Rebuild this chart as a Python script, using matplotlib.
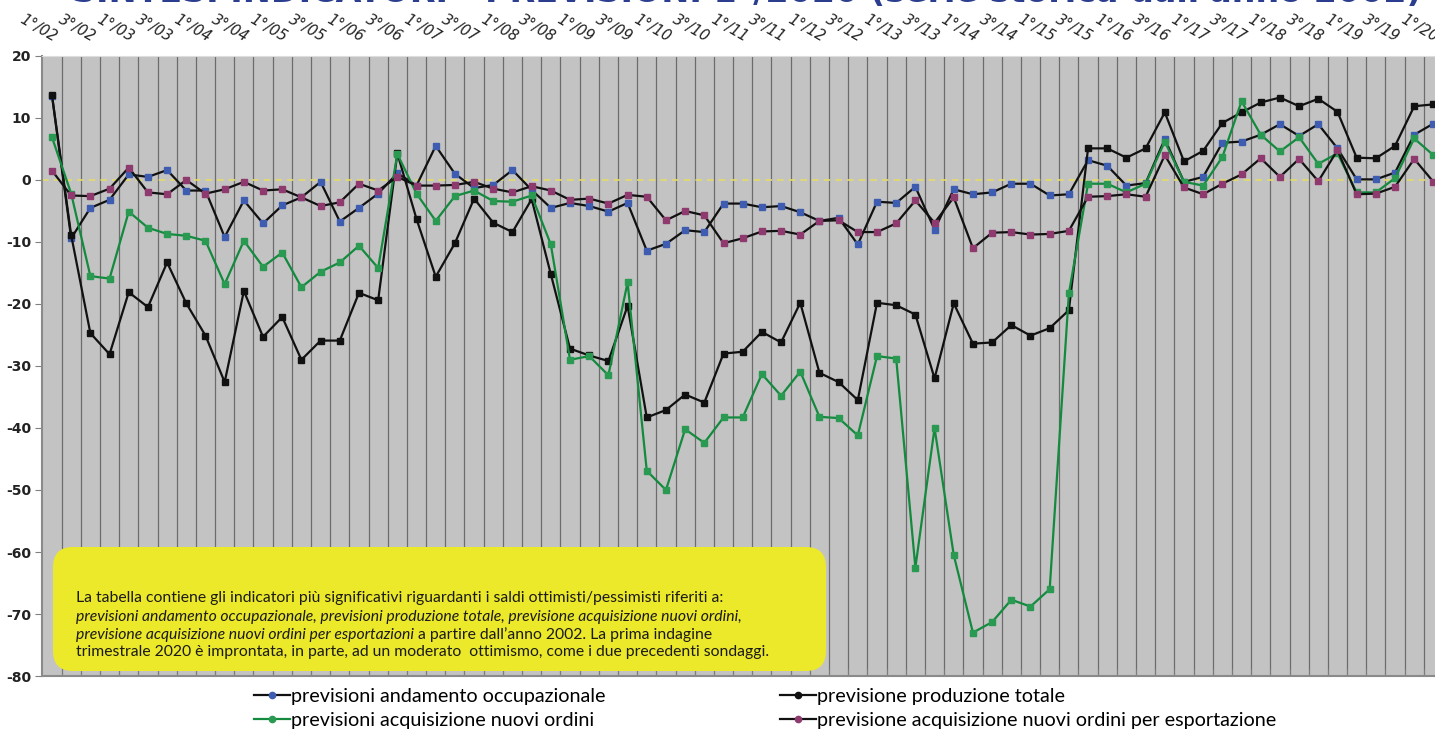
import matplotlib
matplotlib.use("Agg")
import matplotlib.pyplot as plt
from matplotlib.lines import Line2D
from matplotlib.patches import FancyBboxPatch
import numpy as np

plt.rcParams['axes.unicode_minus'] = False

# periodi: trimestri dal 1°/02 al 1°/20 (etichette solo 1° e 3°)
anni = list(range(2, 21))
periodi = []
for a in anni:
    for q in (1, 2, 3, 4):
        periodi.append("%d°/%02d" % (q, a))
periodi = periodi[:73]
etichette = [p if i % 2 == 0 else "" for i, p in enumerate(periodi)]

occupazione = [13.6, -9.4, -4.5, -3.2, 0.9, 0.5, 1.6, -1.7, -1.7, -9.2, -3.3, -7.0,
               -4.1, -2.8, -0.3, -6.7, -4.5, -2.2, 1.1, -0.9, 5.5, 1.0, -1.3, -0.8, 1.6,
               -1.6, -4.5, -3.7, -4.2, -5.1, -3.7, -11.4, -10.3, -8.1, -8.4, -3.8, -3.8,
               -4.4, -4.2, -5.2, -6.6, -6.1, -10.4, -3.5, -3.7, -1.1, -8.0, -1.5, -2.3, -2.0,
               -0.6, -0.6, -2.5, -2.3, 3.2, 2.3, -0.9, -0.5, 6.6, -0.3, 0.5, 6.0, 6.2,
               7.3, 9.0, 7.1, 9.0, 5.1, 0.1, 0.1, 1.2, 7.3, 9.1]

produzione = [13.7, -8.9, -24.7, -28.1, -18.1, -20.5, -13.3, -19.9, -25.1, -32.6, -17.9, -25.3,
              -22.1, -29.0, -25.9, -25.9, -18.2, -19.4, 4.3, -6.3, -15.6, -10.2, -3.0, -6.9, -8.4,
              -3.1, -15.2, -27.2, -28.3, -29.2, -20.3, -38.3, -37.1, -34.6, -35.9, -28.0, -27.7,
              -24.5, -26.2, -19.8, -31.1, -32.6, -35.5, -19.8, -20.2, -21.7, -32.0, -19.9, -26.4, -26.2,
              -23.4, -25.1, -23.9, -21.0, 5.1, 5.1, 3.6, 5.1, 10.9, 3.0, 4.7, 9.2, 10.9,
              12.5, 13.3, 11.9, 13.1, 11.0, 3.6, 3.5, 5.5, 11.9, 12.2]

ordini = [6.9, -2.2, -15.5, -15.9, -5.1, -7.7, -8.7, -9.0, -9.8, -16.8, -9.8, -14.0,
          -11.7, -17.3, -14.8, -13.3, -10.6, -14.2, 4.2, -2.2, -6.6, -2.6, -1.7, -3.4, -3.5,
          -2.5, -10.4, -29.0, -28.4, -31.5, -16.5, -46.9, -50.0, -40.2, -42.4, -38.3, -38.3,
          -31.3, -34.8, -30.9, -38.2, -38.4, -41.2, -28.4, -28.8, -62.5, -40.0, -60.5, -73.0, -71.3,
          -67.7, -68.8, -66.0, -18.3, -0.6, -0.6, -2.0, -0.6, 6.2, -0.3, -0.9, 3.7, 12.7,
          7.3, 4.6, 6.9, 2.6, 4.3, -2.0, -2.0, 0.3, 6.7, 4.0]

export = [1.5, -2.5, -2.6, -1.4, 2.0, -2.0, -2.3, 0.0, -2.2, -1.5, -0.3, -1.7,
          -1.5, -2.8, -4.2, -3.6, -0.6, -1.7, 0.5, -0.9, -0.9, -0.8, -0.3, -1.4, -2.0,
          -1.0, -1.7, -3.2, -3.0, -3.8, -2.4, -2.7, -6.5, -5.0, -5.7, -10.2, -9.4,
          -8.3, -8.2, -8.8, -6.6, -6.5, -8.4, -8.4, -7.0, -3.3, -6.9, -2.8, -11.0, -8.5,
          -8.4, -8.8, -8.7, -8.2, -2.7, -2.6, -2.3, -2.7, 4.0, -1.2, -2.3, -0.6, 0.9,
          3.5, 0.5, 3.4, -0.2, 4.8, -2.3, -2.2, -1.1, 3.4, -0.3]

serie = [
    ("previsioni andamento occupazionale", occupazione, "#111111", "#3f5db0"),
    ("previsione produzione totale", produzione, "#111111", "#111111"),
    ("previsioni acquisizione nuovi ordini", ordini, "#138a3e", "#2a9a52"),
    ("previsione acquisizione nuovi ordini per esportazione", export, "#111111", "#8e3a6e"),
]

W, H = 1435, 729
fig = plt.figure(figsize=(W / 100, H / 100), dpi=100)
ax = fig.add_axes([42.4 / W, (H - 676) / H, (1443 - 42.4) / W, (676 - 56) / H])
ax.set_facecolor("#c3c3c3")

x = np.arange(len(periodi))
for b in np.arange(len(periodi) - 1) + 0.5:
    ax.axvline(b, color="#6c6c6c", lw=0.9, zorder=1)
ax.axhline(0, color="#e3dc6a", lw=1.2, ls=(0, (4, 3)), zorder=2)

for nome, vals, lc, mc in serie:
    ax.plot(x, vals, color=lc, lw=1.6, marker="s", ms=4.8, mfc=mc, mec=mc,
            zorder=3, label=nome)

ax.set_xlim(-0.5, len(periodi) - 0.5)
ax.set_ylim(-80, 20)
ax.set_yticks(range(-80, 21, 10))
ax.tick_params(axis="y", length=5, color="#808080", labelsize=10, pad=3)
for t in ax.get_yticklabels():
    t.set_fontweight("bold")
    t.set_color("#222222")

ax.set_xticks(x)
ax.set_xticklabels(etichette)
ax.set_xticks(np.arange(len(periodi) - 1) + 0.5, minor=True)
ax.tick_params(axis="x", which="major", top=True, bottom=False, labeltop=True,
               labelbottom=False, length=0, pad=8, labelsize=10.5, labelcolor="#222222")
ax.tick_params(axis="x", which="minor", top=False, bottom=True, direction="in",
               length=5, color="#808080")
for t in ax.get_xticklabels():
    t.set_rotation(-30)
    t.set_ha("right")
    t.set_va("bottom")
    t.set_rotation_mode("anchor")
    t.set_fontstyle("italic")

for s in ("left", "bottom"):
    ax.spines[s].set_color("#8a8a8a")
    ax.spines[s].set_linewidth(1.5)
ax.spines["top"].set_color("#dddddd")
ax.spines["right"].set_visible(False)

# titolo (quasi tutto fuori dall'immagine, come nell'originale)
fig.text(1422 / W, 1 - 2 / H, "SINTESI INDICATORI - PREVISIONI 1°/2020 (serie storica dall'anno 2002)",
         ha="right", va="baseline", fontsize=24, fontweight="bold", color="#2b3d8f")

# riquadro giallo
tr = fig.dpi_scale_trans
box = FancyBboxPatch((0.53, 0.58), 7.73, 1.24, boxstyle="round,pad=0,rounding_size=0.2",
                     transform=tr, facecolor="#ece82a", edgecolor="none", zorder=5)
fig.add_artist(box)

fnt = dict(fontsize=11.3, family="Lato", color="#1a1a1a", va="baseline", zorder=6)
x0 = 76 / 100
righe_y = [(H - 602) / 100, (H - 621) / 100, (H - 639) / 100, (H - 656) / 100]
fig.text(x0, righe_y[0], "La tabella contiene gli indicatori più significativi riguardanti i saldi ottimisti/pessimisti riferiti a:",
         transform=tr, **fnt)
fig.text(x0, righe_y[1], "previsioni andamento occupazionale, previsioni produzione totale, previsione acquisizione nuovi ordini,",
         transform=tr, style="italic", **fnt)
t_it = fig.text(x0, righe_y[2], "previsione acquisizione nuovi ordini per esportazioni",
                transform=tr, style="italic", **fnt)
r = fig.canvas.get_renderer()
ext = t_it.get_window_extent(r)
fig.text(ext.x1 / 100, righe_y[2], " a partire dall\u2019anno 2002. La prima indagine",
         transform=tr, **fnt)
fig.text(x0, righe_y[3], "trimestrale 2020 è improntata, in parte, ad un moderato  ottimismo, come i due precedenti sondaggi.",
         transform=tr, **fnt)

# legenda
def handle(lc, mc):
    return Line2D([], [], color=lc, lw=1.6, marker="o", ms=4.5, mfc=mc, mec=mc)

hs = [handle(lc, mc) for _, _, lc, mc in serie]
nomi = [n for n, _, _, _ in serie]
leg_kw = dict(frameon=False, handlelength=1.8, handletextpad=0.1,
              labelspacing=0.33, borderpad=0, borderaxespad=0,
              prop={"family": "Lato", "size": 14.2})
fig.legend([hs[0], hs[2]], [nomi[0], nomi[2]], loc="upper left",
           bbox_to_anchor=(254 / W, (H - 688) / H), **leg_kw)
fig.legend([hs[1], hs[3]], [nomi[1], nomi[3]], loc="upper left",
           bbox_to_anchor=(780 / W, (H - 688) / H), **leg_kw)

fig.savefig("out.png", dpi=100)
